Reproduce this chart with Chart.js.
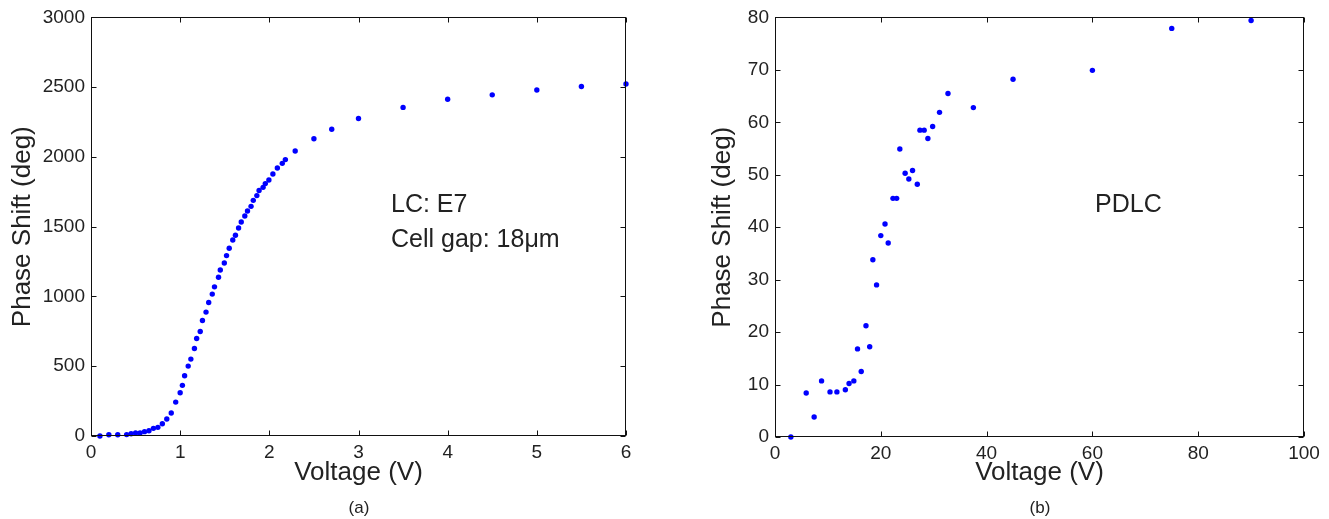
<!DOCTYPE html>
<html>
<head>
<meta charset="utf-8">
<script src="https://cdn.jsdelivr.net/npm/chart.js@4.4.1/dist/chart.umd.min.js"></script>
<style>
  body { margin: 0; background: #fff; }
  #wrap { position: relative; width: 1329px; height: 519px; }
  canvas { position: absolute; top: 0; }
</style>
</head>
<body>
<div id="wrap">
  <canvas id="chartE7" width="665" height="519" style="left:0px"></canvas>
  <canvas id="chartPDLC" width="664" height="519" style="left:665px"></canvas>
</div>
<script>
// (a) LC E7, cell gap 18 um
var voltsE7 = [0.1, 0.2, 0.3, 0.4, 0.45, 0.5, 0.55, 0.6, 0.65, 0.7, 0.75, 0.8, 0.85, 0.9, 0.95, 1.0,
  1.025, 1.05, 1.09, 1.12, 1.16, 1.185, 1.225, 1.25, 1.29, 1.32, 1.36, 1.385, 1.43, 1.45, 1.495, 1.52,
  1.55, 1.59, 1.62, 1.655, 1.685, 1.725, 1.755, 1.795, 1.82, 1.86, 1.885, 1.93, 1.955, 1.995, 2.04,
  2.09, 2.145, 2.18, 2.29, 2.5, 2.7, 3.0, 3.5, 4.0, 4.5, 5.0, 5.5, 6.0];
var phaseE7 = [0, 9, 9, 10, 16, 21, 21, 31, 38, 55, 62, 88, 122, 165, 243, 310,
  363, 432, 501, 551, 627, 699, 749, 828, 888, 957, 1017, 1069, 1138, 1190, 1240, 1293,
  1346, 1405, 1439, 1491, 1534, 1577, 1613, 1646, 1689, 1723, 1759, 1782, 1809, 1835, 1878,
  1921, 1954, 1981, 2043, 2130, 2198, 2275, 2355, 2413, 2445, 2480, 2505, 2523];

// (b) PDLC
var voltsPDLC = [3, 5.9, 7.4, 8.8, 10.4, 11.7, 13.3, 14.0, 14.9, 15.6, 16.3, 17.2, 17.9, 18.5, 19.2,
  20.0, 20.8, 21.4, 22.3, 23.0, 23.6, 24.6, 25.3, 26.0, 26.9, 27.4, 28.2, 28.9, 29.8, 31.1, 32.7,
  37.5, 45.0, 60.0, 75.0, 90.0];
var phasePDLC = [0, 8.4, 3.8, 10.7, 8.6, 8.6, 9.0, 10.2, 10.7, 16.8, 12.5, 21.2, 17.2, 33.8, 29.0,
  38.4, 40.6, 37.0, 45.5, 45.5, 54.9, 50.3, 49.2, 50.8, 48.2, 58.5, 58.5, 56.9, 59.2, 61.9, 65.5,
  62.8, 68.2, 69.9, 77.9, 79.4];

var fonte = 'Liberation Sans, Arial, Helvetica, sans-serif';
var corTexto = '#222';

function pontos(xs, ys) {
  return xs.map(function (x, i) { return { x: x, y: ys[i] }; });
}

// sem separador de milhar, como no original
function semVirgula(v) { return String(v); }

// Caixa estilo MATLAB com ticks para dentro e textos extras
var caixaPlugin = {
  id: 'caixa',
  afterDraw: function (chart, args, opts) {
    var ctx = chart.ctx;
    var a = chart.chartArea;
    var sx = chart.scales.x, sy = chart.scales.y;
    var L = Math.round(a.left) + 0.5, R = Math.round(a.right) - 0.5;
    var T = Math.round(a.top) + 0.5, B = Math.round(a.bottom) - 0.5;
    var tl = 5;
    ctx.save();
    ctx.strokeStyle = '#111';
    ctx.lineWidth = 1;
    ctx.strokeRect(L, T, R - L, B - T);
    ctx.beginPath();
    sx.ticks.forEach(function (t) {
      var px = Math.round(sx.getPixelForValue(t.value)) + 0.5;
      ctx.moveTo(px, B); ctx.lineTo(px, B - tl);
      ctx.moveTo(px, T); ctx.lineTo(px, T + tl);
    });
    sy.ticks.forEach(function (t) {
      var py = Math.round(sy.getPixelForValue(t.value)) + 0.5;
      ctx.moveTo(L, py); ctx.lineTo(L + tl, py);
      ctx.moveTo(R, py); ctx.lineTo(R - tl, py);
    });
    ctx.stroke();
    ctx.fillStyle = corTexto;
    ctx.textBaseline = 'alphabetic';
    (opts.notas || []).forEach(function (n) {
      ctx.font = n.size + 'px ' + fonte;
      ctx.textAlign = n.align || 'left';
      ctx.fillText(n.text, n.x, n.y);
    });
    ctx.restore();
  }
};

function criarGrafico(id, dados, xMax, xStep, yMax, yStep, medidas, notas) {
  var ctx = document.getElementById(id).getContext('2d');
  return new Chart(ctx, {
    type: 'scatter',
    data: {
      datasets: [{
        data: dados,
        backgroundColor: '#0000ff',
        borderWidth: 0,
        pointRadius: 2.7,
        pointHoverRadius: 2.7,
        clip: false
      }]
    },
    options: {
      responsive: false,
      animation: false,
      events: [],
      layout: { padding: { top: medidas.top, right: medidas.right, left: 0, bottom: 0 } },
      plugins: {
        legend: { display: false },
        tooltip: { enabled: false },
        caixa: { notas: notas }
      },
      scales: {
        x: {
          type: 'linear', min: 0, max: xMax,
          grid: { display: false, drawTicks: false },
          border: { display: false },
          ticks: { stepSize: xStep, padding: 5, color: corTexto, callback: semVirgula,
                   font: { family: fonte, size: 19 } },
          title: { display: true, text: 'Voltage (V)', color: corTexto,
                   font: { family: fonte, size: 26 }, padding: { top: 0, bottom: 31 } },
          afterFit: function (s) { s.height = medidas.xh; }
        },
        y: {
          type: 'linear', min: 0, max: yMax,
          grid: { display: false, drawTicks: false },
          border: { display: false },
          ticks: { stepSize: yStep, padding: 6, color: corTexto, callback: semVirgula,
                   font: { family: fonte, size: 19 } },
          title: { display: true, text: 'Phase Shift (deg)', color: corTexto,
                   font: { family: fonte, size: 26 }, padding: { top: medidas.tpad, bottom: 0 } },
          afterFit: function (s) { s.width = medidas.yw; }
        }
      }
    },
    plugins: [caixaPlugin]
  });
}

var chartE7 = criarGrafico('chartE7', pontos(voltsE7, phaseE7), 6, 1, 3000, 500,
  { top: 17, right: 39, xh: 83, yw: 91, tpad: 7 },
  [
    { text: 'LC: E7', x: 391, y: 212, size: 25 },
    { text: 'Cell gap: 18\u03bcm', x: 391, y: 247, size: 25 },
    { text: '(a)', x: 359, y: 513, size: 17, align: 'center' }
  ]);

var chartPDLC = criarGrafico('chartPDLC', pontos(voltsPDLC, phasePDLC), 100, 20, 80, 10,
  { top: 16, right: 25, xh: 82, yw: 110, tpad: 42 },
  [
    { text: 'PDLC', x: 430, y: 212, size: 25 },
    { text: '(b)', x: 375, y: 513, size: 17, align: 'center' }
  ]);
</script>
</body>
</html>
